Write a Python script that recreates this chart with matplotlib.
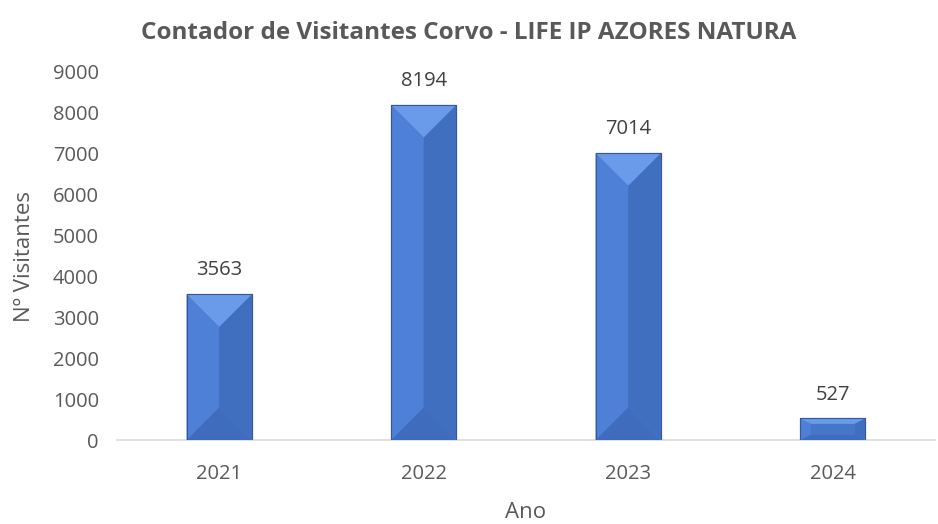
import numpy as np
import matplotlib.pyplot as plt
from matplotlib.patches import Polygon

plt.rcParams['font.family'] = ['Open Sans', 'DejaVu Sans']

years = ['2021', '2022', '2023', '2024']
visitors = [3563, 8194, 7014, 527]

fig = plt.figure(figsize=(9.38, 5.24), dpi=100)
ax = fig.add_axes([0.1247, 0.1603, 0.8721, 0.7023])

x = np.arange(len(years))
bw = 0.32
bars = ax.bar(x, visitors, width=bw, color='#4a7bd2', edgecolor='#3a5f9e', linewidth=0.8, zorder=2)

ax.set_xlim(-0.5, len(years) - 0.5)
ax.set_ylim(0, 9000)
ax.set_yticks(np.arange(0, 9001, 1000))
ax.set_xticks(x)
ax.set_xticklabels(years)

fig.canvas.draw()
# bevel: work in pixels, convert back to data coords
to_data = ax.transData.inverted()
for b in bars:
    x0, y0 = ax.transData.transform((b.get_x(), 0))
    x1, y1 = ax.transData.transform((b.get_x() + b.get_width(), b.get_height()))
    w = x1 - x0
    h = y1 - y0
    d = min(w / 2, h / 4)
    dx = min(w / 2, d * 2) if h / 4 < w / 2 else w / 2
    xi0, xi1 = x0 + dx, x1 - dx
    yi0, yi1 = y0 + d, y1 - d
    faces = [
        ([(x0, y1), (x1, y1), (xi1, yi1), (xi0, yi1)], '#6a9aea'),  # top
        ([(x0, y0), (x1, y0), (xi1, yi0), (xi0, yi0)], '#3f6cbd'),  # bottom
        ([(x0, y0), (x0, y1), (xi0, yi1), (xi0, yi0)], '#4e80d8'),  # left
        ([(x1, y0), (x1, y1), (xi1, yi1), (xi1, yi0)], '#416fc0'),  # right
    ]
    for pts, col in faces:
        ax.add_patch(Polygon(to_data.transform(pts), closed=True, facecolor=col,
                             edgecolor='none', zorder=3))
    if xi1 > xi0:
        ax.add_patch(Polygon(to_data.transform([(xi0, yi0), (xi1, yi0), (xi1, yi1), (xi0, yi1)]),
                             closed=True, facecolor='#4676c8', edgecolor='none', zorder=3))
    ax.add_patch(Polygon(to_data.transform([(x0, y0), (x1, y0), (x1, y1), (x0, y1)]), closed=True,
                         facecolor='none', edgecolor='#35589a', linewidth=0.8, zorder=4))

for xi, v in zip(x, visitors):
    ax.annotate(str(v), (xi, v), xytext=(0, 10), textcoords='offset points',
                ha='center', va='bottom', fontsize=14.5, color='#404040')

for s in ['top', 'right', 'left']:
    ax.spines[s].set_visible(False)
ax.spines['bottom'].set_color('#d9d9d9')
ax.spines['bottom'].set_linewidth(1.2)
ax.tick_params(axis='both', length=0, labelsize=14.5, labelcolor='#595959')
ax.tick_params(axis='x', pad=17)
ax.tick_params(axis='y', pad=13)

ax.set_xlabel('Ano', fontsize=16, color='#595959', labelpad=13)
ax.set_ylabel('Nº Visitantes', fontsize=16, color='#595959', labelpad=13)
fig.suptitle('Contador de Visitantes Corvo - LIFE IP AZORES NATURA', x=0.5, y=0.96,
             fontsize=17.5, fontweight='bold', color='#595959')

fig.savefig('out.png', dpi=100)
